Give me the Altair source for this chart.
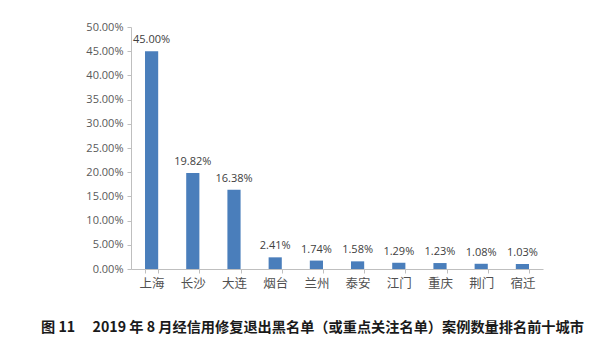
import altair as alt
import pandas as pd

cities = ["上海", "长沙", "大连", "烟台", "兰州", "泰安", "江门", "重庆", "荆门", "宿迁"]
shares = [0.45, 0.1982, 0.1638, 0.0241, 0.0174, 0.0158, 0.0129, 0.0123, 0.0108, 0.0103]
caption = "图 11\u3000 2019 年 8 月经信用修复退出黑名单（或重点关注名单）案例数量排名前十城市"

df = pd.DataFrame({"city": cities, "share": shares})

x = alt.X("city:N", sort=cities, title=None,
          scale=alt.Scale(paddingInner=0.68, paddingOuter=0.34),
          axis=alt.Axis(labelAngle=0, labelFontSize=12.5, labelColor="#505050",
                        labelPadding=4, tickBand="extent", tickSize=4,
                        tickColor="#bfbfbf", domainColor="#bfbfbf",
                        labelFont="Noto Sans CJK SC"))
y = alt.Y("share:Q", title=None,
          scale=alt.Scale(domain=[0, 0.5], nice=False),
          axis=alt.Axis(format=".2%", values=[i * 0.05 for i in range(11)],
                        labelFontSize=11, labelColor="#595959", grid=False,
                        tickSize=4, tickColor="#bfbfbf", domainColor="#bfbfbf",
                        labelPadding=4, labelFont="Open Sans"))

bars = alt.Chart(df).mark_bar(color="#4a7ebb").encode(x=x, y=y)
labels = alt.Chart(df).mark_text(dy=-11, fontSize=11, color="#404040",
                                 font="Open Sans").encode(
    x=x, y=y, text=alt.Text("share:Q", format=".2%"))

cap_df = pd.DataFrame({"t": [caption]})
cap = alt.Chart(cap_df).mark_text(fontSize=14.2, fontWeight="bold", color="#1a1a1a",
                                  font="Noto Sans CJK SC", align="left").encode(
    x=alt.value(-90), y=alt.value(301), text="t:N")

chart = alt.layer(bars, labels, cap).properties(
    width=412, height=242,
    background="white",
    autosize=alt.AutoSizeParams(type="none"),
    padding={"left": 131, "top": 27, "right": 71, "bottom": 88},
).configure_view(stroke=None)

chart.save("out.html", embed_options={"renderer": "svg", "actions": False})
